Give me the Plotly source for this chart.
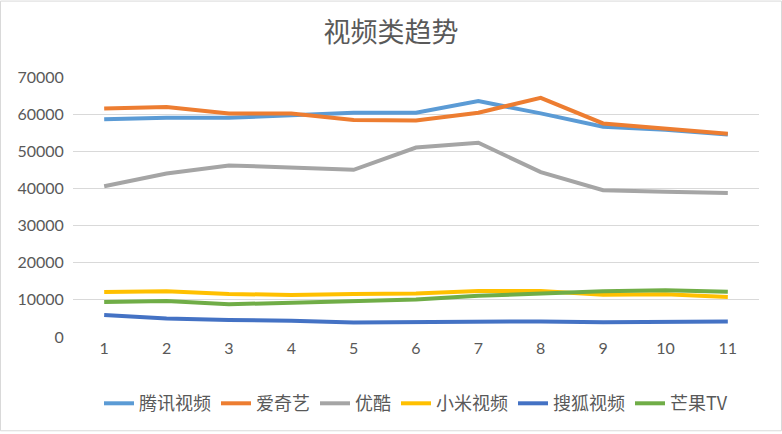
import plotly.graph_objects as go

months = [1, 2, 3, 4, 5, 6, 7, 8, 9, 10, 11]

tencent = [58600, 59000, 59000, 59700, 60400, 60400, 63500, 60200, 56600, 55800, 54500]
iqiyi = [61500, 61900, 60200, 60200, 58400, 58300, 60400, 64400, 57500, 56000, 54700]
youku = [40600, 44000, 46200, 45500, 45000, 51000, 52300, 44400, 39500, 39100, 38800]
xiaomi = [12100, 12300, 11600, 11300, 11600, 11700, 12400, 12400, 11400, 11500, 10800]
sohu = [5900, 5000, 4600, 4400, 3900, 4000, 4200, 4200, 4000, 4200, 4200]
mango = [9400, 9700, 8800, 9300, 9600, 10100, 11100, 11700, 12300, 12600, 12200]

series = [
    ("腾讯视频", tencent, "#5B9BD5"),
    ("爱奇艺", iqiyi, "#ED7D31"),
    ("优酷", youku, "#A5A5A5"),
    ("小米视频", xiaomi, "#FFC000"),
    ("搜狐视频", sohu, "#4472C4"),
    ("芒果TV", mango, "#70AD47"),
]

font = "Noto Sans CJK SC, Lato, sans-serif"

fig = go.Figure()
for name, vals, color in series:
    fig.add_trace(go.Scatter(
        x=months, y=vals, name=name, mode="lines",
        line=dict(color=color, width=4),
    ))

fig.update_layout(
    width=782, height=434,
    paper_bgcolor="white", plot_bgcolor="white",
    title=dict(text="视频类趋势", x=0.5, xanchor="center", y=0.925, yanchor="middle",
               font=dict(family=font, size=27, color="#595959")),
    margin=dict(l=73, r=23, t=77, b=95),
    showlegend=True,
    legend=dict(orientation="h", x=0.5, xanchor="center", y=-0.185, yanchor="top",
                font=dict(family=font, size=18, color="#595959"),
                itemwidth=30, tracegroupgap=0),
    xaxis=dict(range=[0.5, 11.5], tickmode="array", tickvals=months,
               showgrid=False, zeroline=False, showline=False, ticks="",
               tickfont=dict(family="Lato, sans-serif", size=16, color="#595959")),
    yaxis=dict(range=[0, 70000], dtick=10000, showgrid=True, gridcolor="#D9D9D9",
               gridwidth=1, zeroline=False, showline=False, ticks="",
               tickformat="d", ticksuffix="  ",
               tickfont=dict(family="Lato, sans-serif", size=16, color="#595959")),
)

# thin chart border like the spreadsheet frame
fig.add_shape(type="rect", xref="paper", yref="paper",
              x0=-72.5 / 686, x1=1 + 22.5 / 686, y0=-94.5 / 262, y1=1 + 76.5 / 262,
              line=dict(color="#D9D9D9", width=1))

fig.write_html("out.html", config={"displayModeBar": False},
               post_script="document.body.style.margin='0';")
